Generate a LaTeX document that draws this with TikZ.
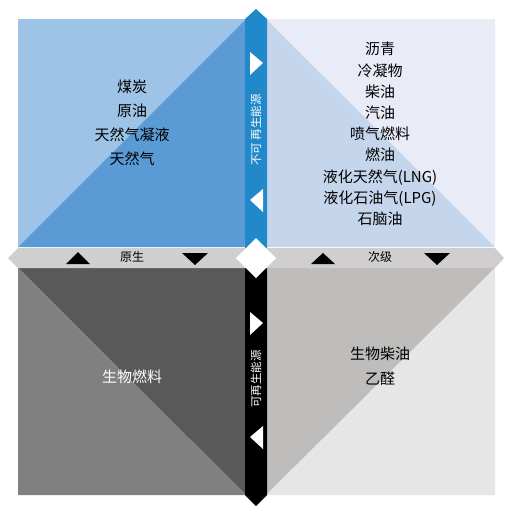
\documentclass[tikz,border=0pt]{standalone}
\usepackage{fontspec}
\newfontfamily\cjk{Noto Sans CJK SC}
\definecolor{tlLight}{RGB}{157,195,230}
\definecolor{tlDark}{RGB}{91,155,213}
\definecolor{trLight}{RGB}{233,236,247}
\definecolor{trDark}{RGB}{197,214,236}
\definecolor{blLight}{RGB}{128,128,128}
\definecolor{blDark}{RGB}{89,89,89}
\definecolor{brLight}{RGB}{231,230,230}
\definecolor{brDark}{RGB}{191,189,188}
\definecolor{barBlue}{RGB}{33,137,201}
\definecolor{barGray}{RGB}{208,206,206}
\begin{document}
\begin{tikzpicture}[x=1pt,y=-1pt,
  maintext/.style={font=\cjk\fontsize{15}{24}\selectfont,align=center,inner sep=0pt},
  bartext/.style={font=\cjk\fontsize{12}{14}\selectfont,inner sep=0pt},
  vtext/.style={font=\cjk\fontsize{11.5}{14}\selectfont,text=white,inner sep=0pt,rotate=90}]
\useasboundingbox (0,0) rectangle (513,515);

% quadrant corners
\coordinate (A) at (18,19);
\coordinate (B) at (246,19);
\coordinate (C) at (18,247);
\coordinate (D) at (246,247);
\coordinate (E) at (266,19);
\coordinate (F) at (495,19);
\coordinate (G) at (266,247);
\coordinate (H) at (495,247);
\coordinate (I) at (18,268);
\coordinate (J) at (246,268);
\coordinate (K) at (18,495);
\coordinate (L) at (246,495);
\coordinate (M) at (266,268);
\coordinate (N) at (495,268);
\coordinate (P) at (266,495);
\coordinate (Q) at (495,495);

% upper left
\fill[tlLight] (A)--(B)--(C)--cycle;
\fill[tlDark] (B)--(D)--(C)--cycle;
% upper right
\fill[trLight] (E)--(F)--(H)--cycle;
\fill[trDark] (E)--(H)--(G)--cycle;
% lower left
\fill[blDark] (I)--(J)--(L)--cycle;
\fill[blLight] (I)--(L)--(K)--cycle;
% lower right
\fill[brDark] (M)--(N)--(P)--cycle;
\fill[brLight] (N)--(Q)--(P)--cycle;

% bars
\fill[barBlue] (245,19)--(256,9)--(267,19)--(267,258)--(245,258)--cycle;
\fill[black] (245,258)--(267,258)--(267,495)--(256,506)--(245,495)--cycle;
\fill[barGray] (8,258)--(18,248)--(495,248)--(504,258)--(495,268)--(18,268)--cycle;
\fill[white] (256,238)--(276,258)--(256,278)--(236,258)--cycle;

% arrow marks
\fill[black] (66,264)--(90,264)--(78,252)--cycle;
\fill[black] (182,253)--(208,253)--(195,265)--cycle;
\fill[black] (311,264)--(335,264)--(323,253)--cycle;
\fill[black] (424,253)--(450,253)--(437,265)--cycle;
\fill[white] (250,52)--(250,75)--(263,63)--cycle;
\fill[white] (263,189)--(263,212)--(250,200)--cycle;
\fill[white] (250,312)--(250,335)--(263,323)--cycle;
\fill[white] (263,426)--(263,449)--(250,437)--cycle;

% labels
\node[bartext] (primary) at (132,257) {原生};
\node[bartext] (secondary) at (380,257) {次级};
\node[vtext] (nonrenew) at (256,130) {不可\ 再生能源};
\node[vtext] (renew) at (256,379) {可再生能源};

\node[maintext] (fossil) at (132,123) {煤炭\\原油\\天然气凝液\\天然气};
\node[maintext,font=\cjk\fontsize{15}{21.2}\selectfont] (refined) at (380,134)
  {沥青\\冷凝物\\柴油\\汽油\\喷气燃料\\燃油\\液化天然气(LNG)\\液化石油气(LPG)\\石脑油};
\node[maintext,text=white] (biofuel) at (132,377) {生物燃料};
\node[maintext,font=\cjk\fontsize{15}{25}\selectfont] (biodiesel) at (380,366) {生物柴油\\乙醛};

\end{tikzpicture}
\end{document}
